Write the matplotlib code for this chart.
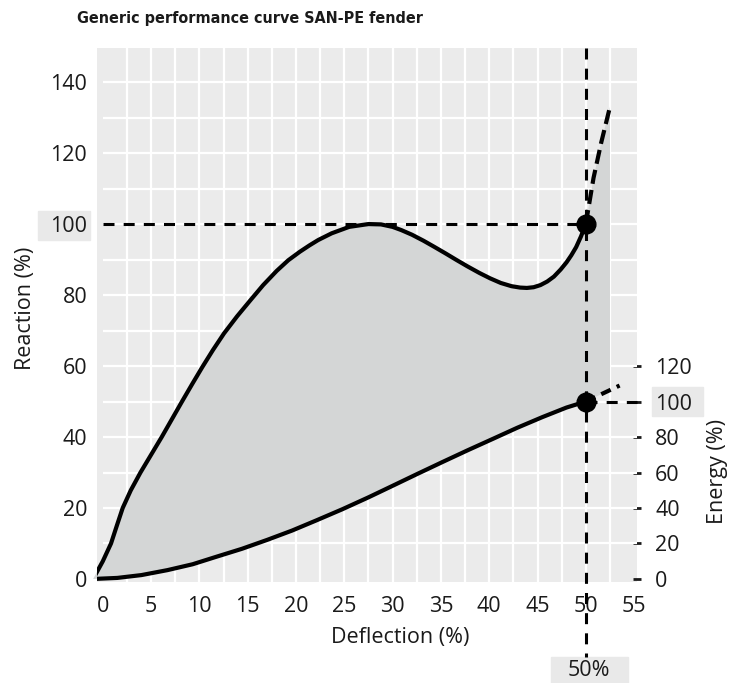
import numpy as np
import matplotlib
matplotlib.use("Agg")
import matplotlib.pyplot as plt
from matplotlib.patches import Rectangle

plt.rcParams['font.family'] = ['Open Sans', 'DejaVu Sans']

# ---- data ----
reaction_x = [-1, 0, 0.85, 1.45, 2.06, 2.9, 3.9, 5, 6.1, 7.15, 8.2, 9.25,
              10.3, 11.4, 12.55, 13.9, 15.3, 16.6, 18, 19.2, 20.4, 21.4, 22.3,
              23.7, 25.5, 27.5, 28.8, 30, 30.9, 32, 33.2, 34.3, 35.5, 36.6,
              37.8, 39, 40.1, 41.2, 42.3, 43.2, 43.9, 44.6, 45.3, 46, 46.7,
              47.4, 48, 48.5, 49, 49.5, 50]
reaction_y = [0, 5, 10, 15, 20, 25, 30, 35, 40, 45, 50, 54.9,
              59.7, 64.5, 69.2, 74, 78.6, 82.8, 86.8, 89.8, 92.2, 94, 95.5,
              97.4, 99.2, 100, 99.9, 99.2, 98.3, 97, 95.3, 93.6, 91.7, 89.9,
              88, 86.2, 84.7, 83.4, 82.5, 82.1, 82, 82.2, 82.8, 83.8, 85.2,
              87.2, 89.2, 91.2, 93.5, 96.5, 100]
reaction_ext_x = [50, 50.8, 51.6, 52.5]
reaction_ext_y = [100, 113, 123, 133]

energy_x = [-1, 1.5, 4, 6.7, 9.3, 11.8, 14.4, 17, 19.6, 22.1, 24.8, 27.5, 30,
            32.6, 35.2, 37.8, 40.4, 42.9, 45.5, 48, 50]
energy_y = [0, 0.6, 2.2, 5, 8.3, 12.6, 17, 22, 27.3, 33, 39.3, 46, 52.5,
            59.3, 66, 72.6, 79, 85.2, 91.2, 96.6, 100]
energy_ext_x = [50, 53.5]
energy_ext_y = [100, 109]

rated_deflection = 50
rated_reaction = 100
rated_energy = 100

x_ticks = list(range(0, 56, 5))
y_ticks = list(range(0, 141, 20))
energy_ticks = list(range(0, 121, 20))

title = "Generic performance curve SAN-PE fender"

# ---- figure ----
W, H = 731, 683
fig = plt.figure(figsize=(W / 100, H / 100), dpi=100)
ax = fig.add_axes([97 / W, 1 - 582 / H, 540 / W, 534 / H])
ax.set_xlim(-0.6, 55.3)
ax.set_ylim(-0.85, 149.6)
ax.set_facecolor('#ebebeb')
for s in ax.spines.values():
    s.set_visible(False)

# grid
for gx in np.arange(2.5, 53, 2.5):
    ax.axvline(gx, color='white', lw=1.6, zorder=1)
for gy in range(10, 141, 10):
    ax.plot([0, 55.3], [gy, gy], color='white', lw=1.6, zorder=1, solid_capstyle='butt')

# fill between curves
e2r = lambda e: np.asarray(e, dtype=float) / 2.0
px = np.concatenate([reaction_x, reaction_ext_x[1:], energy_ext_x[::-1][:-1], energy_x[::-1]])
py = np.concatenate([reaction_y, reaction_ext_y[1:], e2r(energy_ext_y[::-1][:-1]), e2r(energy_y[::-1])])
poly = ax.fill(px, py, color='#d4d6d6', lw=0, zorder=2)[0]
clip = Rectangle((-2, -5), 54.5, 200, transform=ax.transData)
poly.set_clip_path(clip)

# curves
ax.plot(reaction_x, reaction_y, color='black', lw=3, zorder=5,
        solid_joinstyle='round', solid_capstyle='round')
ax.plot(reaction_ext_x, reaction_ext_y, color='black', lw=3, zorder=5,
        dashes=(3.4, 1.5))
ax.plot(energy_x, e2r(energy_y), color='black', lw=3, zorder=5,
        solid_joinstyle='round', solid_capstyle='round')
ax.plot(energy_ext_x, e2r(energy_ext_y), color='black', lw=3, zorder=5,
        dashes=(2.5, 1.6))

# reference dashed lines
dash_kw = dict(color='black', lw=2.2, dashes=(3.6, 3.0), zorder=4)
ax.plot([0, rated_deflection], [rated_reaction, rated_reaction], **dash_kw)
ax.plot([rated_deflection, rated_deflection], [149.6, -22], clip_on=False, **dash_kw)
ax.plot([rated_deflection, 55.3], [e2r(rated_energy), e2r(rated_energy)], clip_on=False, **dash_kw)

# rated points
ax.plot([rated_deflection], [rated_reaction], 'o', color='black', ms=13.5, zorder=6)
ax.plot([rated_deflection], [e2r(rated_energy)], 'o', color='black', ms=13.5, zorder=6)

# ticks
fs = 15.5
ax.set_xticks(x_ticks)
ax.set_xticklabels([str(v) for v in x_ticks])
ax.set_yticks(y_ticks)
ax.set_yticklabels([str(v) for v in y_ticks])
ax.tick_params(axis='both', length=0, labelsize=fs, colors='#1a1a1a')
ax.tick_params(axis='x', pad=10)
ax.tick_params(axis='y', pad=7)

ax2 = ax.secondary_yaxis('right', functions=(lambda r: r * 2, lambda e: e / 2))
ax2.set_yticks(energy_ticks)
ax2.set_yticklabels([str(v) for v in energy_ticks])
ax2.spines['right'].set_visible(False)
ax2.tick_params(axis='y', direction='inout', length=6, width=2, pad=10,
                labelsize=fs, colors='#1a1a1a')
for t, v in zip(ax2.yaxis.get_major_ticks(), energy_ticks):
    c = '#8c8264' if v in (40, 80, 120) else '#f4f4f4'
    t.tick1line.set_color(c)
    t.tick2line.set_color(c)

# highlight boxes
for (x0, y0, x1, y1) in [(38, 211, 90, 240), (652, 387, 703, 416), (551, 657, 628, 683)]:
    fig.add_artist(Rectangle((x0 / W, 1 - y1 / H), (x1 - x0) / W, (y1 - y0) / H,
                             transform=fig.transFigure, color='#e9e9e9', zorder=-1))
fig.text(589 / W, 1 - 670 / H, "50%", ha='center', va='center', fontsize=fs, color='#1a1a1a')

# labels
fig.text(77 / W, 1 - 19 / H, title, ha='left', va='center', fontsize=11.5,
         fontweight='bold', family='DejaVu Sans', fontstretch='condensed',
         color='#1a1a1a')
fig.text(25 / W, 1 - 308 / H, "Reaction (%)", rotation=90, ha='center', va='center',
         fontsize=fs, color='#1a1a1a')
fig.text(400 / W, 1 - 637 / H, "Deflection (%)", ha='center', va='center',
         fontsize=fs, color='#1a1a1a')
fig.text(718 / W, 1 - 472 / H, "Energy (%)", rotation=90, ha='center', va='center',
         fontsize=fs, color='#1a1a1a')

fig.savefig('out.png', dpi=100)
